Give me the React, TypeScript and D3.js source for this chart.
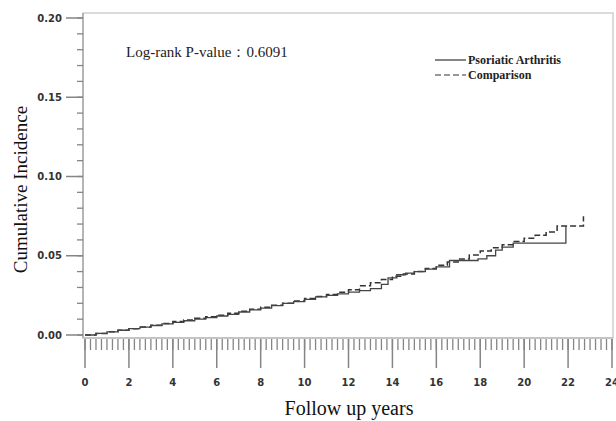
import React from "react";
import * as d3 from "d3";

// follow-up years / cumulative incidence
const psaYears = [0, 0.5, 1, 1.5, 2, 2.5, 3, 3.5, 4, 4.5, 5, 5.5, 6, 6.5, 7, 7.5, 8, 8.5, 9, 9.5, 10, 10.5, 11, 11.5, 12, 12.5, 13, 13.5, 13.8, 14.2, 14.6, 15, 15.5, 16, 16.6, 17.9, 18.3, 18.7, 19.0, 19.5, 21.9];
const psaValues = [0, 0.001, 0.002, 0.003, 0.004, 0.005, 0.006, 0.007, 0.008, 0.009, 0.010, 0.011, 0.012, 0.013, 0.0145, 0.0158, 0.017, 0.0185, 0.020, 0.021, 0.0225, 0.024, 0.025, 0.026, 0.027, 0.028, 0.0292, 0.032, 0.036, 0.038, 0.039, 0.040, 0.0415, 0.043, 0.047, 0.048, 0.050, 0.0535, 0.0555, 0.058, 0.0687];

const cmpYears = [0, 0.5, 1, 1.5, 2, 2.5, 3, 3.5, 4, 4.5, 5, 5.5, 6, 6.5, 7, 7.5, 8, 8.5, 9, 9.5, 10, 10.5, 11, 11.5, 12, 12.5, 13, 13.5, 14, 14.5, 15, 15.5, 16, 16.5, 17, 17.5, 18, 18.5, 19, 19.5, 20, 20.5, 21, 21.5, 22.7];
const cmpValues = [0, 0.001, 0.002, 0.003, 0.004, 0.005, 0.0062, 0.0073, 0.0085, 0.0095, 0.0105, 0.0115, 0.0125, 0.0138, 0.015, 0.0162, 0.0175, 0.0188, 0.020, 0.0215, 0.023, 0.0243, 0.0255, 0.027, 0.0285, 0.031, 0.033, 0.035, 0.037, 0.0385, 0.040, 0.042, 0.044, 0.046, 0.048, 0.0505, 0.053, 0.055, 0.057, 0.059, 0.061, 0.063, 0.065, 0.0687, 0.075];

const xMajor = d3.range(0, 25, 2);
const xMinor = d3.range(0, 24.01, 0.25);
const yMajor = [0, 0.05, 0.1, 0.15, 0.2];
const yMinor = d3.range(0, 0.2001, 0.01);

const legendItems = [
  { label: "Psoriatic Arthritis", dash: "none" },
  { label: "Comparison", dash: "6,3" },
];

export default function App() {
  const W = 616, H = 421;
  const x = d3.scaleLinear().domain([0, 24]).range([85, 612]);
  const y = d3.scaleLinear().domain([0, 0.2]).range([335, 18]);
  const frame = { l: 83, t: 13, r: 613, b: 338 };

  const line = d3.line<[number, number]>()
    .x((d) => x(d[0]))
    .y((d) => y(d[1]))
    .curve(d3.curveStepAfter);
  const psa = line(psaYears.map((t, i) => [t, psaValues[i]]) as [number, number][]);
  const cmp = line(cmpYears.map((t, i) => [t, cmpValues[i]]) as [number, number][]);

  const tickCol = "#858585";
  const serif = "'Liberation Serif', 'Times New Roman', serif";
  const sans = "'DejaVu Sans', sans-serif";

  return (
    <svg width={W} height={H} style={{ position: "absolute", left: 0, top: 0, background: "#fff" }}>
      {/* plot frame */}
      <rect x={frame.l} y={frame.t} width={frame.r - frame.l} height={frame.b - frame.t}
        fill="none" stroke="#cfcfcf" strokeWidth={1.5} />
      <line x1={frame.l} x2={frame.l} y1={frame.t} y2={frame.b} stroke="#a8a8a8" strokeWidth={1.5} />
      <line x1={frame.l} x2={frame.r} y1={frame.b} y2={frame.b} stroke="#bdbdbd" strokeWidth={1.5} />

      {/* y axis ticks */}
      {yMinor.map((v, i) => (
        <line key={"ym" + i} x1={77} x2={frame.l} y1={y(v)} y2={y(v)} stroke={tickCol} strokeWidth={1.3} />
      ))}
      {yMajor.map((v) => (
        <g key={"yM" + v}>
          <line x1={66} x2={frame.l} y1={y(v)} y2={y(v)} stroke={tickCol} strokeWidth={1.5} />
          <text x={62} y={y(v)} dy="0.35em" textAnchor="end" fontFamily={sans} fontWeight="bold"
            fontSize={10} fill="#333">{d3.format(".2f")(v)}</text>
        </g>
      ))}

      {/* x axis ticks */}
      {xMinor.map((t, i) => (
        <line key={"xm" + i} x1={x(t)} x2={x(t)} y1={frame.b + 1} y2={350} stroke={tickCol} strokeWidth={1.3} />
      ))}
      {xMajor.map((t) => (
        <g key={"xM" + t}>
          <line x1={x(t)} x2={x(t)} y1={frame.b + 1} y2={368} stroke={tickCol} strokeWidth={1.5} />
          <text x={x(t)} y={386} textAnchor="middle" fontFamily={sans} fontWeight="bold"
            fontSize={10} fill="#333">{t}</text>
        </g>
      ))}

      {/* curves */}
      <path d={cmp ?? ""} fill="none" stroke="#333" strokeWidth={1.5} strokeDasharray="6,3" />
      <path d={psa ?? ""} fill="none" stroke="#444" strokeWidth={1.3} />

      {/* annotation */}
      <text x={126} y={57} fontFamily={serif} fontSize={15} fill="#222">Log-rank P-value：0.6091</text>

      {/* legend */}
      {legendItems.map((d, i) => (
        <g key={d.label} transform={`translate(435,${60 + i * 15})`}>
          <line x1={0} x2={31} y1={0} y2={0} stroke="#333" strokeWidth={1.2} strokeDasharray={d.dash} />
          <text x={33} y={0} dy="0.33em" fontFamily={serif} fontWeight="bold" fontSize={12} fill="#222">{d.label}</text>
        </g>
      ))}

      {/* axis titles */}
      <text transform={`translate(27,${(frame.t + frame.b) / 2 + 14}) rotate(-90)`} textAnchor="middle"
        fontFamily={serif} fontSize={19} fill="#111">Cumulative Incidence</text>
      <text x={349} y={415} textAnchor="middle" fontFamily={serif} fontSize={20} fill="#111">Follow up years</text>
    </svg>
  );
}
